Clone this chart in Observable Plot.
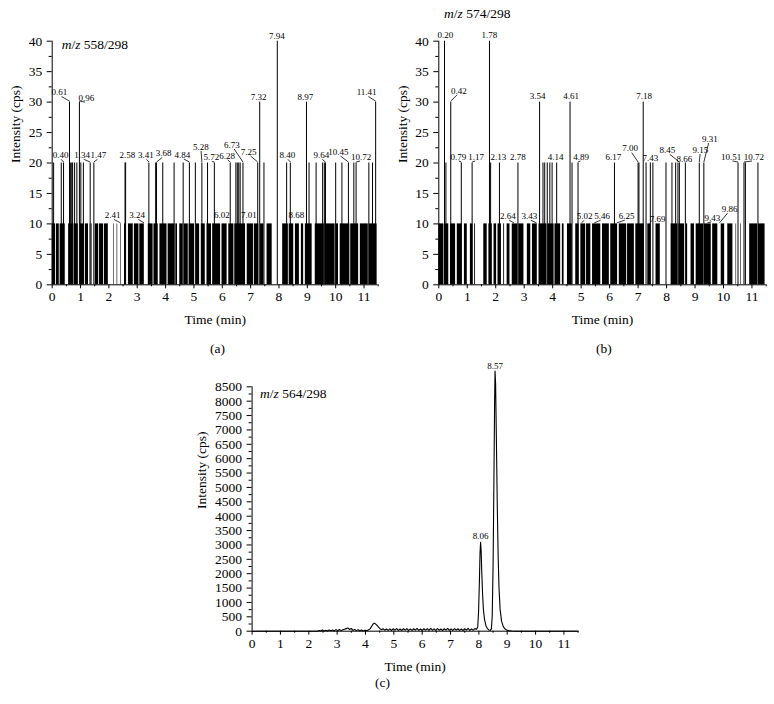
<!DOCTYPE html>
<html>
<head>
<meta charset="utf-8">
<script src="https://cdn.jsdelivr.net/npm/d3@7"></script>
<script src="https://cdn.jsdelivr.net/npm/@observablehq/plot@0.6"></script>
<style>
  body { margin: 0; background: #fff; }
  #fig { position: relative; width: 774px; height: 704px; background: #fff; font-family: "Liberation Serif", serif; color: #000; overflow: hidden; }
  #fig svg { position: absolute; }
  .t { position: absolute; font-size: 13.5px; line-height: 14px; white-space: nowrap; }
</style>
</head>
<body>
<div id="fig"></div>
<script>
// ---------------- DATA ----------------
const xTicks = [0, 1, 2, 3, 4, 5, 6, 7, 8, 9, 10, 11];
const xMinorTicks = [0.5, 1.5, 2.5, 3.5, 4.5, 5.5, 6.5, 7.5, 8.5, 9.5, 10.5, 11.5];
const abYTicks = [0, 5, 10, 15, 20, 25, 30, 35, 40];
const abYMinorTicks = [2.5, 7.5, 12.5, 17.5, 22.5, 27.5, 32.5, 37.5];
const cYTicks = [0, 500, 1000, 1500, 2000, 2500, 3000, 3500, 4000, 4500, 5000, 5500, 6000, 6500, 7000, 7500, 8000, 8500];
const cYMinorTicks = [250, 750, 1250, 1750, 2250, 2750, 3250, 3750, 4250, 4750, 5250, 5750, 6250, 6750, 7250, 7750, 8250];

// (a) m/z 558/298 : taller spikes [time, cps]
const aSpikes = [[0.05,20],[0.32,20],[0.40,20],[0.61,30],[0.65,20],[0.69,20],[0.72,20],[0.79,20],[0.87,20],[0.96,30],
  [1.01,20],[1.10,20],[1.34,20],[1.47,20],[2.57,20],[2.59,20],[3.41,20],[3.65,20],[3.68,20],[3.90,20],[4.30,20],
  [4.62,20],[4.84,20],[5.05,20],[5.28,20],[5.48,20],[5.72,20],[6.28,20],[6.48,20],[6.53,20],[6.58,20],[6.63,20],
  [6.73,20],[7.25,20],[7.32,30],[7.47,20],[7.94,40],[8.27,20],[8.40,20],[8.97,30],[9.06,20],[9.31,20],[9.54,20],
  [9.60,20],[9.64,20],[10.00,20],[10.22,20],[10.45,20],[10.64,20],[10.72,20],[11.17,20],[11.30,20],[11.41,30]];
// (a) dense runs of 10-cps spikes [start, end]
const aTenRuns = [[0.00,0.12],[0.15,0.25],[0.28,0.46],[0.58,0.74],[0.77,0.92],[0.99,1.14],[1.17,1.28],[1.34,1.36],
  [1.40,1.42],[1.52,1.64],[1.67,1.81],[1.84,1.98],[2.17,2.19],[2.29,2.31],[2.42,2.44],[2.55,2.60],[2.69,2.86],
  [2.90,3.06],[3.09,3.25],[3.39,3.56],[3.59,3.74],[3.80,4.05],[4.09,4.33],[4.36,4.42],[4.50,4.62],[4.66,4.80],
  [4.83,5.02],[5.08,5.20],[5.26,5.40],[5.46,5.62],[5.66,5.94],[5.99,6.17],[6.23,6.41],[6.44,6.82],[6.88,7.10],
  [7.13,7.29],[7.35,7.47],[7.58,7.76],[8.13,8.33],[8.36,8.52],[8.58,8.72],[8.79,8.87],[8.93,9.17],[9.28,9.60],
  [9.63,9.98],[10.01,10.10],[10.16,10.50],[10.53,10.81],[10.87,11.15],[11.18,11.46]];
const aTenLevel = 10;
// (a) labelled peaks [time, cps]
const aLabels = [[0.40,20],[0.61,30],[0.96,30],[1.34,20],[1.47,20],[2.41,10],[2.58,20],[3.24,10],[3.41,20],[3.68,20],
  [4.84,20],[5.28,20],[5.72,20],[6.02,10],[6.28,20],[6.73,20],[7.01,10],[7.25,20],[7.32,30],[7.94,40],[8.40,20],
  [8.68,10],[8.97,30],[9.64,20],[10.45,20],[10.72,20],[11.41,30]];

// (b) m/z 574/298
const bSpikes = [[0.20,40],[0.25,20],[0.42,30],[0.79,20],[1.17,20],[1.78,40],[1.82,20],[2.13,20],[2.78,20],[3.54,30],
  [3.66,20],[3.72,20],[3.81,20],[3.90,20],[3.98,20],[4.14,20],[4.61,30],[4.68,20],[4.89,20],[6.17,20],[7.00,20],
  [7.03,20],[7.18,30],[7.28,20],[7.43,20],[7.52,20],[7.98,20],[8.19,20],[8.32,20],[8.40,20],[8.45,20],[8.66,20],
  [9.15,20],[9.31,20],[10.51,20],[10.72,20],[10.77,20],[11.21,20]];
const bTenRuns = [[0.00,0.18],[0.23,0.35],[0.41,0.59],[0.65,0.82],[0.90,1.00],[1.11,1.20],[1.26,1.29],[1.58,1.70],
  [1.76,1.88],[1.94,2.03],[2.08,2.20],[2.28,2.31],[2.40,2.50],[2.58,2.78],[2.81,2.99],[3.11,3.23],[3.29,3.46],
  [3.52,3.80],[3.83,4.05],[4.08,4.28],[4.34,4.40],[4.52,4.69],[4.81,4.93],[4.99,5.16],[5.19,5.34],[5.40,5.69],
  [5.75,5.99],[6.04,6.28],[6.34,6.60],[6.63,6.87],[6.92,7.22],[7.34,7.45],[7.63,7.78],[8.16,8.40],[8.43,8.63],
  [8.69,8.74],[8.86,8.98],[9.04,9.30],[9.33,9.57],[9.62,9.80],[9.92,10.04],[10.15,10.33],[10.44,10.46],
  [10.61,10.63],[10.92,11.20],[11.23,11.46]];
const bTenLevel = 10;
const bLabels = [[0.20,40],[0.42,30],[0.79,20],[1.17,20],[1.78,40],[2.13,20],[2.64,10],[2.78,20],[3.43,10],[3.54,30],
  [4.14,20],[4.61,30],[4.89,20],[5.02,10],[5.46,10],[6.17,20],[6.25,10],[7.00,20],[7.18,30],[7.43,20],[7.69,10],
  [8.45,20],[8.66,20],[9.15,20],[9.31,20],[9.43,10],[9.86,10],[10.51,20],[10.72,20]];

// (c) m/z 564/298 chromatogram
const cTime = [0, 0.5, 1.0, 1.5, 2.0, 2.30, 2.36, 2.42, 2.48, 2.54, 2.60, 2.66, 2.72, 2.78, 2.84, 2.90, 2.96, 3.02, 3.08,
  3.14, 3.20, 3.26, 3.32, 3.38, 3.44, 3.50, 3.56, 3.62, 3.68, 3.74, 3.80, 3.86, 3.92, 3.98, 4.04, 4.10, 4.16, 4.21,
  4.26, 4.31, 4.36, 4.41, 4.46, 4.51, 4.56, 4.62, 4.68, 4.74, 4.80, 4.86, 4.92, 4.98, 5.04, 5.10, 5.16, 5.22, 5.28,
  5.34, 5.40, 5.46, 5.52, 5.58, 5.64, 5.70, 5.76, 5.82, 5.88, 5.94, 6.00, 6.06, 6.12, 6.18, 6.24, 6.30, 6.36, 6.42,
  6.48, 6.54, 6.60, 6.66, 6.72, 6.78, 6.84, 6.90, 6.96, 7.02, 7.08, 7.14, 7.20, 7.26, 7.32, 7.38, 7.44, 7.50, 7.56,
  7.62, 7.68, 7.74, 7.80, 7.86, 7.92, 7.96, 7.99, 8.02, 8.04, 8.06, 8.08, 8.10, 8.13, 8.16, 8.20, 8.25, 8.30, 8.35,
  8.40, 8.44, 8.47, 8.50, 8.53, 8.555, 8.57, 8.59, 8.62, 8.65, 8.68, 8.71, 8.75, 8.80, 8.86, 8.92, 8.98, 9.05, 9.15,
  9.30, 10.0, 11.0, 11.5];
const cIntensity = [0, 0, 0, 0, 0, 0, 25, 5, 40, 10, 35, 5, 45, 15, 40, 10, 55, 15, 60,
  20, 50, 70, 90, 110, 60, 95, 30, 60, 20, 50, 15, 40, 10, 35, 15, 45, 80, 160,
  240, 280, 250, 200, 140, 90, 50, 85, 35, 75, 30, 80, 25, 85, 35, 90, 30, 75, 25,
  85, 35, 90, 30, 80, 28, 85, 35, 95, 30, 75, 25, 85, 35, 90, 30, 100, 35, 80,
  28, 90, 35, 75, 25, 85, 35, 95, 30, 80, 28, 90, 35, 85, 30, 75, 25, 85, 35,
  100, 30, 80, 35, 90, 70, 150, 700, 1800, 2700, 3090, 2800, 2100, 1300, 750, 400, 190, 90, 45,
  30, 80, 500, 2200, 5200, 8000, 9050, 8600, 6500, 4300, 2600, 1500, 750, 350, 160, 80, 40, 20, 8,
  0, 0, 0, 0];
const cLabels = [[8.06, 3090], [8.57, 9050]];

// ---------------- LAYOUT / STYLE ----------------
const FONT = '"Liberation Serif", "Times New Roman", serif';
// label nudges in pixels [dx, dy] (dy = offset of text centre from peak top)
const aNudge = [[-3,-7.7],[-10,-9.6],[7,-4],[-8,-7.7],[4.5,-7.7],[-8,-8.4],[2,-7.7],[-7,-8.4],[-3,-7.7],[7,-9.4],
  [-7,-8],[-1,-16],[-3,-5.5],[-1,-8.4],[-3,-7],[-11,-18],[-2,-8.4],[-9,-11],[-1,-5.3],[-0.5,-5],[-3,-7.7],
  [-2,-8.4],[-1,-4.7],[-4,-7.7],[-10,-11],[5,-6],[-9,-9.6]];
const bNudge = [[1,-6.4],[8,-11.3],[-3,-6],[4,-6],[0,-6.4],[-1,-6],[-6,-7.7],[0,-6],[-7,-7.7],[-2,-5.6],
  [-1,-6],[1,-5.6],[3,-6],[3,-7.7],[8,-7.7],[-1,-6],[10,-7.7],[-8,-14.4],[1,-5.6],[0,-4.4],[0,-4.7],
  [-12,-12.7],[-1,-3.5],[1,-13],[6,-24],[5,-6],[10,-14.7],[-7,-6],[10,-6]];
const cNudge = [[0,-6],[0,-5.3]];

const fig = document.getElementById("fig");

function labelMarks(labels, nudges, kx, ky) {
  const marks = [];
  labels.forEach(([t, v], i) => {
    const [dx, dy] = nudges[i];
    marks.push(Plot.text([{t, v, s: t.toFixed(2)}], {
      x: "t", y: "v", text: "s", dx, dy, fontSize: 9, textAnchor: "middle", lineAnchor: "middle", fill: "black"
    }));
    if (Math.abs(dx) >= 3 || dy <= -10) {
      marks.push(Plot.link([{x1: t, y1: v + 1 / ky, x2: t + (dx * 0.8) / kx, y2: v - (dy + 4) / ky}], {
        x1: "x1", y1: "y1", x2: "x2", y2: "y2", stroke: "black", strokeWidth: 0.8
      }));
    }
  });
  return marks;
}

function panel(cfg) {
  const {left, top, width, height, ml, mr, mt, mb, yMax, yTicks, yMinor, yFormat, marks, yLabelDx} = cfg;
  const svg = Plot.plot({
    width, height,
    marginLeft: ml, marginRight: mr, marginTop: mt, marginBottom: mb,
    x: {domain: [0, 11.5]},
    y: {domain: [0, yMax]},
    style: {fontFamily: FONT, fontSize: "13px", color: "black", background: "transparent", overflow: "visible"},
    marks: [
      ...marks,
      Plot.ruleY([0], {x1: 0, x2: 11.5, stroke: "black", strokeWidth: 1}),
      Plot.ruleX([0], {y1: 0, y2: yMax, stroke: "black", strokeWidth: 1}),
      Plot.axisX(xTicks, {tickSize: 4, tickPadding: 3, label: null, fontSize: 13.5}),
      Plot.axisX(xMinorTicks, {tickSize: 2, tickFormat: () => "", label: null}),
      Plot.axisY(yTicks, {tickSize: 5, tickPadding: 5, label: null, tickFormat: yFormat, fontSize: 13.5}),
      Plot.axisY(yMinor, {tickSize: 3, tickFormat: () => "", label: null}),
      Plot.text(["Time (min)"], {text: d => d, frameAnchor: "bottom", dy: 35, fontSize: 13.5, lineAnchor: "middle"}),
      Plot.text(["Intensity (cps)"], {text: d => d, frameAnchor: "left", rotate: -90, dx: yLabelDx, fontSize: 13.5, lineAnchor: "middle"})
    ]
  });
  svg.style.position = "absolute";
  svg.style.left = left + "px";
  svg.style.top = top + "px";
  fig.appendChild(svg);
}

function spikePanelMarks(spikes, runs, level, labels, nudges, kx, ky) {
  return [
    Plot.rect(runs, {x1: d => d[0], x2: d => d[1], y1: 0, y2: () => level, fill: "black"}),
    Plot.ruleX(spikes, {x: d => d[0], y1: 0, y2: d => d[1], stroke: "black", strokeWidth: 1}),
    ...labelMarks(labels, nudges, kx, ky)
  ];
}

// Panel (a)
{
  const width = 390, height = 335, ml = 51.7, mr = 12.3, mt = 40.7, mb = 50.7;
  const kx = (width - ml - mr) / 11.5, ky = (height - mt - mb) / 40;
  panel({left: 0, top: 0, width, height, ml, mr, mt, mb, yMax: 40, yTicks: abYTicks, yMinor: abYMinorTicks,
    yFormat: d => String(d), yLabelDx: -36.7,
    marks: spikePanelMarks(aSpikes, aTenRuns, aTenLevel, aLabels, aNudge, kx, ky)});
}
// Panel (b)
{
  const width = 388, height = 335, ml = 52.3, mr = 8.3, mt = 40.7, mb = 50.7;
  const kx = (width - ml - mr) / 11.5, ky = (height - mt - mb) / 40;
  panel({left: 386, top: 0, width, height, ml, mr, mt, mb, yMax: 40, yTicks: abYTicks, yMinor: abYMinorTicks,
    yFormat: d => String(d), yLabelDx: -36.6,
    marks: spikePanelMarks(bSpikes, bTenRuns, bTenLevel, bLabels, bNudge, kx, ky)});
}
// Panel (c)
{
  const width = 400, height = 330, ml = 61.6, mr = 12.4, mt = 36.3, mb = 49.3;
  const kx = (width - ml - mr) / 11.5, ky = (height - mt - mb) / 8500;
  const cData = cTime.map((t, i) => ({t, v: cIntensity[i]}));
  panel({left: 190, top: 350, width, height, ml, mr, mt, mb, yMax: 8500, yTicks: cYTicks, yMinor: cYMinorTicks,
    yFormat: d => String(d), yLabelDx: -50,
    marks: [
      Plot.line(cData, {x: "t", y: "v", stroke: "black", strokeWidth: 1.1}),
      ...labelMarks(cLabels, cNudge, kx, ky)
    ]});
}

// Titles and captions
function addText(html, left, top) {
  const d = document.createElement("div");
  d.className = "t";
  d.style.left = left + "px";
  d.style.top = top + "px";
  d.innerHTML = html;
  fig.appendChild(d);
}
addText("<i>m</i>/<i>z</i> 558/298", 61.7, 38);
addText("<i>m</i>/<i>z</i> 574/298", 444, 6.5);
addText("<i>m</i>/<i>z</i> 564/298", 260, 386.5);
addText("(a)", 210, 342);
addText("(b)", 596, 342);
addText("(c)", 375, 675.5);
</script>
</body>
</html>
